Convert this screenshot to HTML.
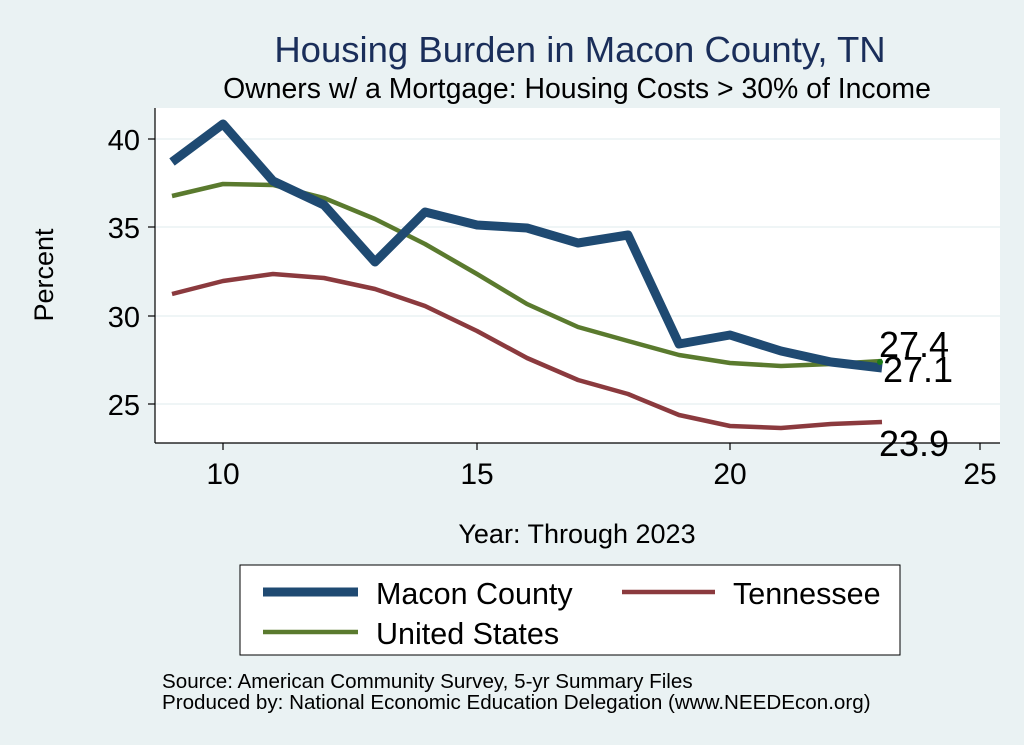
<!DOCTYPE html>
<html><head><meta charset="utf-8"><style>
body{margin:0;background:#eaf2f3;}
svg{display:block;font-family:"Liberation Sans",sans-serif;}
</style></head><body>
<svg width="1024" height="745" viewBox="0 0 1024 745">
<rect x="0" y="0" width="1024" height="745" fill="#eaf2f3"/>
<text x="580" y="62" font-size="36.5" fill="#1a2e5a" text-anchor="middle">Housing Burden in Macon County, TN</text>
<text x="577" y="98" font-size="28.4" fill="#000" text-anchor="middle">Owners w/ a Mortgage: Housing Costs &gt; 30% of Income</text>
<rect x="155" y="108" width="845" height="335" fill="#fff"/>
<g stroke="#eaf2f3" stroke-width="1.5">
<line x1="155" x2="1000" y1="139" y2="139"/><line x1="155" x2="1000" y1="227" y2="227"/>
<line x1="155" x2="1000" y1="316" y2="316"/><line x1="155" x2="1000" y1="404" y2="404"/>
</g>
<g stroke="#000" stroke-width="1.2">
<line x1="155" x2="155" y1="108" y2="443"/><line x1="155" x2="1000" y1="443" y2="443"/>
<line x1="148" x2="155" y1="139" y2="139"/><line x1="148" x2="155" y1="227" y2="227"/>
<line x1="148" x2="155" y1="316" y2="316"/><line x1="148" x2="155" y1="404" y2="404"/>
<line x1="223" x2="223" y1="443" y2="450"/><line x1="477" x2="477" y1="443" y2="450"/>
<line x1="730" x2="730" y1="443" y2="450"/><line x1="980" x2="980" y1="443" y2="450"/>
</g>
<g font-size="29" text-anchor="end">
<text x="140" y="150">40</text><text x="140" y="238">35</text><text x="140" y="327">30</text><text x="140" y="415">25</text>
</g>
<g font-size="30" text-anchor="middle">
<text x="223" y="484">10</text><text x="477" y="484">15</text><text x="730" y="484">20</text><text x="980" y="484">25</text>
</g>
<text x="577" y="543" font-size="27" text-anchor="middle">Year: Through 2023</text>
<text transform="translate(53,275) rotate(-90)" font-size="27" text-anchor="middle">Percent</text>
<polyline fill="none" stroke="#8b3a3e" stroke-width="4.5" stroke-linejoin="round" points="172,294 223,281 273,274 324,278 375,289 425,306 477,331 527,358 578,380 628,394 679,415 730,426 781,428 831,424 882,422"/>
<polyline fill="none" stroke="#5a7a2e" stroke-width="4.5" stroke-linejoin="round" points="172,196 223,184 273,185 324,198 375,219 425,244 477,274 527,304 578,327 628,341 679,355 730,363 781,366 831,364 882,361"/>
<polyline fill="none" stroke="#1f4a72" stroke-width="9" stroke-linejoin="round" points="172,162 223,124 273,181 324,205 375,262 425,212 477,225 527,228 578,243 628,235 679,344 730,335 781,351 831,362 882,368"/>
<circle cx="880" cy="362" r="3" fill="#1a7a1a"/>
<g font-size="36">
<text x="879" y="357">27.4</text><text x="883" y="382">27.1</text><text x="879" y="456">23.9</text>
</g>
<rect x="240" y="565" width="660" height="90" fill="#fff" stroke="#000" stroke-width="1"/>
<line x1="263" x2="358" y1="592" y2="592" stroke="#1f4a72" stroke-width="9"/>
<text x="376" y="604" font-size="30.5">Macon County</text>
<line x1="622" x2="715" y1="592" y2="592" stroke="#8b3a3e" stroke-width="4.5"/>
<text x="733" y="604" font-size="30.5">Tennessee</text>
<line x1="263" x2="358" y1="632" y2="632" stroke="#5a7a2e" stroke-width="4.5"/>
<text x="376" y="644" font-size="30.5">United States</text>
<text x="162" y="688" font-size="20.6">Source: American Community Survey, 5-yr Summary Files</text>
<text x="162" y="709" font-size="20.6">Produced by: National Economic Education Delegation (www.NEEDEcon.org)</text>
</svg>
</body></html>
